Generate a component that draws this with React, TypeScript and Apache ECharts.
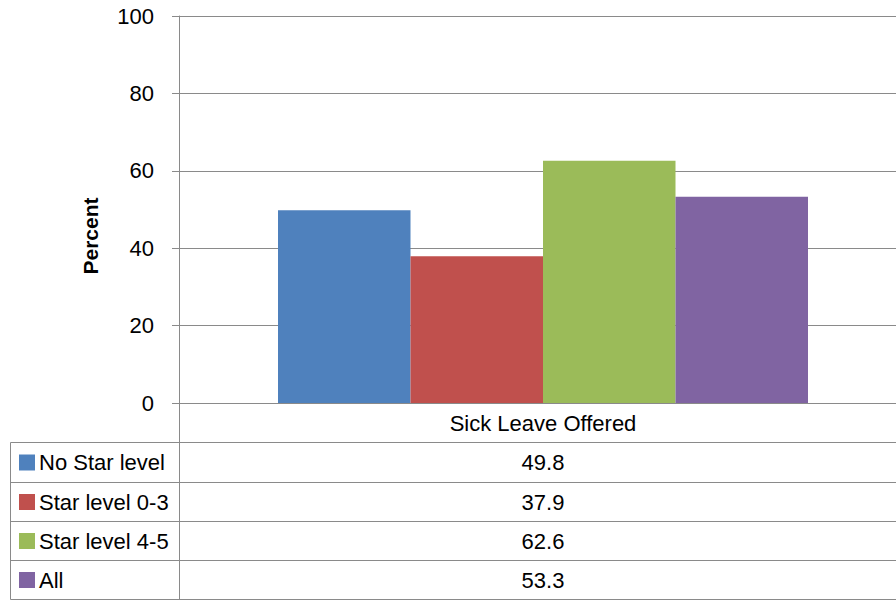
import React, { useEffect, useRef } from "react";
import * as echarts from "echarts";

const categories = ["Sick Leave Offered"];
const seriesNames = ["No Star level", "Star level 0-3", "Star level 4-5", "All"];
const noStarLevel = [49.8];
const starLevel03 = [37.9];
const starLevel45 = [62.6];
const allLevels = [53.3];
const seriesColors = ["#4F81BD", "#C0504D", "#9BBB59", "#8064A2"];
const yMin = 0;
const yMax = 100;
const yInterval = 20;

const FONT = "'Liberation Sans', Arial, sans-serif";
const LINE = "#8a8a8a";

export default function App() {
  const ref = useRef<HTMLDivElement>(null);

  useEffect(() => {
    if (!ref.current) return;
    const chart = echarts.init(ref.current, null, { renderer: "svg" });
    const seriesData = [noStarLevel, starLevel03, starLevel45, allLevels];

    const gridLeft = 179;
    const gridTop = 16;
    const gridHeight = 387;
    const gridWidth = 728;
    const axisY = gridTop + gridHeight;
    const rowLines = [442.5, 482.5, 521.5, 560.5, 599.5];
    const tableLeft = 10.5;
    const sepX = 179.5;
    const valueX = gridLeft + gridWidth / 2;

    const graphics: any[] = [];
    graphics.push({
      type: "line",
      shape: { x1: sepX, y1: axisY, x2: sepX, y2: rowLines[rowLines.length - 1] },
      style: { stroke: LINE, lineWidth: 1 },
    });
    graphics.push({
      type: "line",
      shape: { x1: tableLeft, y1: rowLines[0], x2: tableLeft, y2: rowLines[rowLines.length - 1] },
      style: { stroke: LINE, lineWidth: 1 },
    });
    rowLines.forEach((y) => {
      graphics.push({
        type: "line",
        shape: { x1: tableLeft, y1: y, x2: gridLeft + gridWidth, y2: y },
        style: { stroke: LINE, lineWidth: 1 },
      });
    });
    seriesNames.forEach((name, i) => {
      const cy = (rowLines[i] + rowLines[i + 1]) / 2;
      graphics.push({
        type: "rect",
        shape: { x: 19, y: cy - 8, width: 16, height: 16 },
        style: { fill: seriesColors[i] },
      });
      graphics.push({
        type: "text",
        x: 39,
        y: cy,
        style: {
          text: name,
          font: `22px ${FONT}`,
          fill: "#000",
          align: "left",
          verticalAlign: "middle",
        },
      });
      graphics.push({
        type: "text",
        x: valueX,
        y: cy,
        style: {
          text: seriesData[i][0].toFixed(1),
          font: `22px ${FONT}`,
          fill: "#000",
          align: "center",
          verticalAlign: "middle",
        },
      });
    });
    graphics.push({
      type: "text",
      x: 90,
      y: 236,
      rotation: Math.PI / 2,
      style: {
        text: "Percent",
        font: `bold 21px ${FONT}`,
        fill: "#000",
        align: "center",
        verticalAlign: "middle",
      },
    });

    chart.setOption({
      animation: false,
      backgroundColor: "#ffffff",
      grid: { left: gridLeft, top: gridTop, width: gridWidth, height: gridHeight },
      xAxis: {
        type: "category",
        data: categories,
        axisLine: { show: true, lineStyle: { color: LINE, width: 1 } },
        axisTick: { show: false },
        axisLabel: {
          margin: 20,
          verticalAlign: "middle",
          fontSize: 22,
          fontFamily: FONT,
          color: "#000",
        },
      },
      yAxis: {
        type: "value",
        min: yMin,
        max: yMax,
        interval: yInterval,
        axisLine: { show: true, lineStyle: { color: LINE, width: 1 } },
        axisTick: { show: true, length: 7, lineStyle: { color: LINE, width: 1 } },
        splitLine: { show: true, lineStyle: { color: LINE, width: 1 } },
        axisLabel: { margin: 25, fontSize: 22, fontFamily: FONT, color: "#000" },
      },
      series: seriesNames.map((name, i) => ({
        name,
        type: "bar",
        data: seriesData[i],
        barWidth: 132.5,
        barGap: "0%",
        itemStyle: { color: seriesColors[i] },
      })),
      graphic: graphics,
    });

    return () => chart.dispose();
  }, []);

  return (
    <div
      style={{
        position: "absolute",
        left: 0,
        top: 0,
        width: 896,
        height: 600,
        overflow: "hidden",
        background: "#ffffff",
      }}
    >
      <div ref={ref} style={{ width: 912, height: 600 }} />
    </div>
  );
}
